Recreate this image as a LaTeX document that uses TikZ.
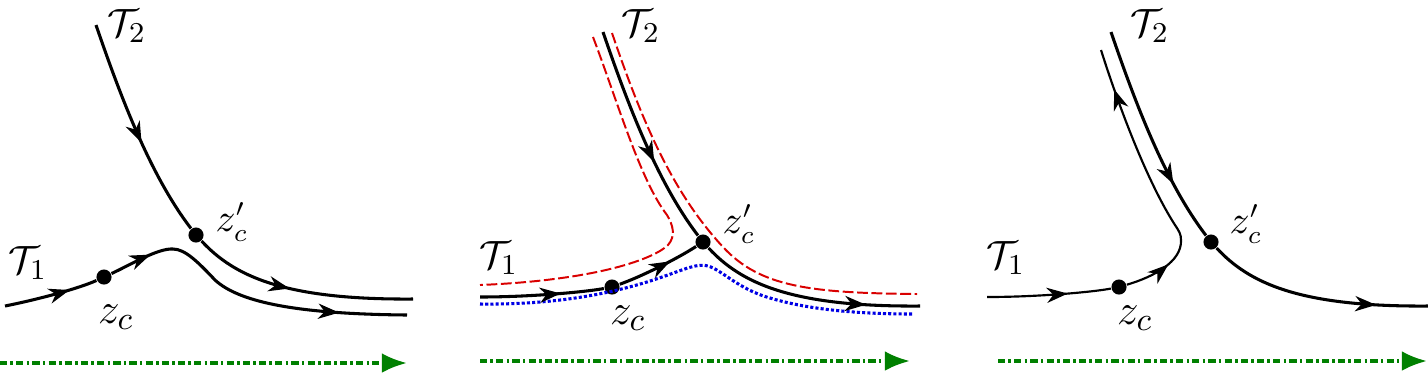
\documentclass[tikz,border=0pt]{standalone}
\usetikzlibrary{arrows.meta,decorations.markings}
\begin{document}
\begin{tikzpicture}[x=0.278pt,y=-0.278pt,
  mainline/.style={line width=0.85pt},
  thinline/.style={line width=0.6pt},
  midarr/.style={postaction={decorate},decoration={markings,
     mark=at position #1 with {\arrow{Stealth[length=5.8pt,width=4.2pt,inset=1.8pt]}}}},
  dot/.style={circle,fill=black,inner sep=0pt,minimum size=4.2pt},
  tlbl/.style={inner sep=0pt,font=\fontsize{11}{13}\selectfont},
  zlbl/.style={inner sep=0pt,font=\fontsize{12.5}{15}\selectfont},
  plbl/.style={inner sep=0pt,font=\fontsize{10.5}{13}\selectfont},
  redline/.style={red!85!black,line width=0.55pt,dash pattern=on 3pt off 1pt},
  blueline/.style={blue!90!black,line width=0.85pt,dash pattern=on 0.85pt off 0.6pt},
  greenarr/.style={green!50!black,line width=1pt,dash pattern=on 2pt off 0.9pt on 0.7pt off 0.9pt,
     -{Latex[length=7pt,width=5.5pt]}}]
\useasboundingbox (0,0) rectangle (1428,373);

% ---------------- Panel 1 ----------------
\coordinate (T2s1) at (96,25);
\coordinate (T2e1) at (413,299);
\coordinate (T1s1) at (5,306);
\coordinate (pk1) at (173,249);
\coordinate (T1e1) at (407,315);
\node[dot] (zp1) at (196,235) {};
\node[dot] (zc1) at (104,277) {};
\draw[mainline,midarr=0.56] (T2s1) .. controls (120,95) and (150,175) .. (zp1);
\draw[mainline,midarr=0.45] (zp1) .. controls (234,276) and (284,300) .. (T2e1);
\draw[mainline,midarr=0.7] (T1s1) .. controls (40,299) and (80,288) .. (zc1);
\draw[mainline,midarr=0.65] (zc1) .. controls (130,265) and (158,248) .. (pk1);
\draw[mainline,midarr=0.73] (pk1) .. controls (185,249) and (198,262) .. (215,280)
   .. controls (240,303) and (300,314) .. (T1e1);
\node[tlbl] (L2a) at (127,26) {$\mathcal{T}_2$};
\node[tlbl] (L1a) at (28,263) {$\mathcal{T}_1$};
\node[zlbl] (Lza) at (116,317) {$z_c$};
\node[plbl] (Lpa) at (232,222) {$z'_c$};
\coordinate (g1s) at (0,363);
\coordinate (g1e) at (407,363);
\draw[greenarr] (g1s) -- (g1e);

% ---------------- Panel 2 ----------------
\coordinate (T2s2) at (603,32);
\coordinate (T2e2) at (920,306);
\coordinate (T1s2) at (480,297);
\node[dot] (zp2) at (703,242) {};
\node[dot] (zc2) at (612,287) {};
% red dashed
\coordinate (rLs) at (593,37);
\coordinate (rLe) at (480,285);
\coordinate (rRs) at (612,33);
\coordinate (rRe) at (917,294);
\draw[redline] (rLs) .. controls (617,100) and (640,180) .. (667,215)
   .. controls (673,225) and (676,236) .. (668,245)
   .. controls (655,258) and (600,280) .. (rLe);
\draw[redline] (rRs) .. controls (640,115) and (670,190) .. (723,247)
   .. controls (760,287) and (810,293) .. (rRe);
% blue dotted
\coordinate (bs) at (480,304);
\coordinate (be) at (913,314);
\draw[blueline] (bs) .. controls (560,305) and (620,292) .. (665,276)
   .. controls (685,269) and (698,263) .. (708,266)
   .. controls (722,270) and (738,289) .. (770,298)
   .. controls (810,310) and (860,314) .. (be);
% black
\draw[mainline,midarr=0.62] (T2s2) .. controls (627,102) and (657,182) .. (zp2);
\draw[mainline,midarr=0.76] (zp2) .. controls (741,283) and (791,307) .. (T2e2);
\draw[mainline,midarr=0.65] (T1s2) .. controls (530,297) and (585,292) .. (zc2);
\draw[mainline,midarr=0.65] (zc2) .. controls (640,277) and (675,260) .. (zp2);
\node[tlbl] (L2b) at (641,26) {$\mathcal{T}_2$};
\node[tlbl] (L1b) at (499,258) {$\mathcal{T}_1$};
\node[zlbl] (Lzb) at (628,318) {$z_c$};
\node[plbl] (Lpb) at (739,224) {$z'_c$};
\coordinate (g2s) at (480,361);
\coordinate (g2e) at (910,361);
\draw[greenarr] (g2s) -- (g2e);

% ---------------- Panel 3 ----------------
\coordinate (T2s3) at (1111,32);
\coordinate (T2e3) at (1428,306);
\coordinate (T1s3) at (987,297);
\coordinate (tn3) at (1181,240);
\coordinate (T1e3) at (1101,50);
\node[dot] (zp3) at (1211,242) {};
\node[dot] (zc3) at (1119,287) {};
\draw[mainline,midarr=0.73] (T2s3) .. controls (1135,102) and (1165,182) .. (zp3);
\draw[mainline,midarr=0.77] (zp3) .. controls (1249,283) and (1299,307) .. (T2e3);
\draw[thinline,midarr=0.65] (T1s3) .. controls (1038,297) and (1093,292) .. (zc3);
\draw[thinline,midarr=0.62] (zc3) .. controls (1153,277) and (1182,262) .. (tn3);
\draw[thinline,midarr=0.8] (tn3) .. controls (1181,234) and (1179,231) .. (1175,225)
   .. controls (1148,183) and (1120,110) .. (T1e3);
\node[tlbl] (L2c) at (1150,26) {$\mathcal{T}_2$};
\node[tlbl] (L1c) at (1006,258) {$\mathcal{T}_1$};
\node[zlbl] (Lzc) at (1135,318) {$z_c$};
\node[plbl] (Lpc) at (1246,224) {$z'_c$};
\coordinate (g3s) at (998,361);
\coordinate (g3e) at (1427,361);
\draw[greenarr] (g3s) -- (g3e);
\end{tikzpicture}
\end{document}
